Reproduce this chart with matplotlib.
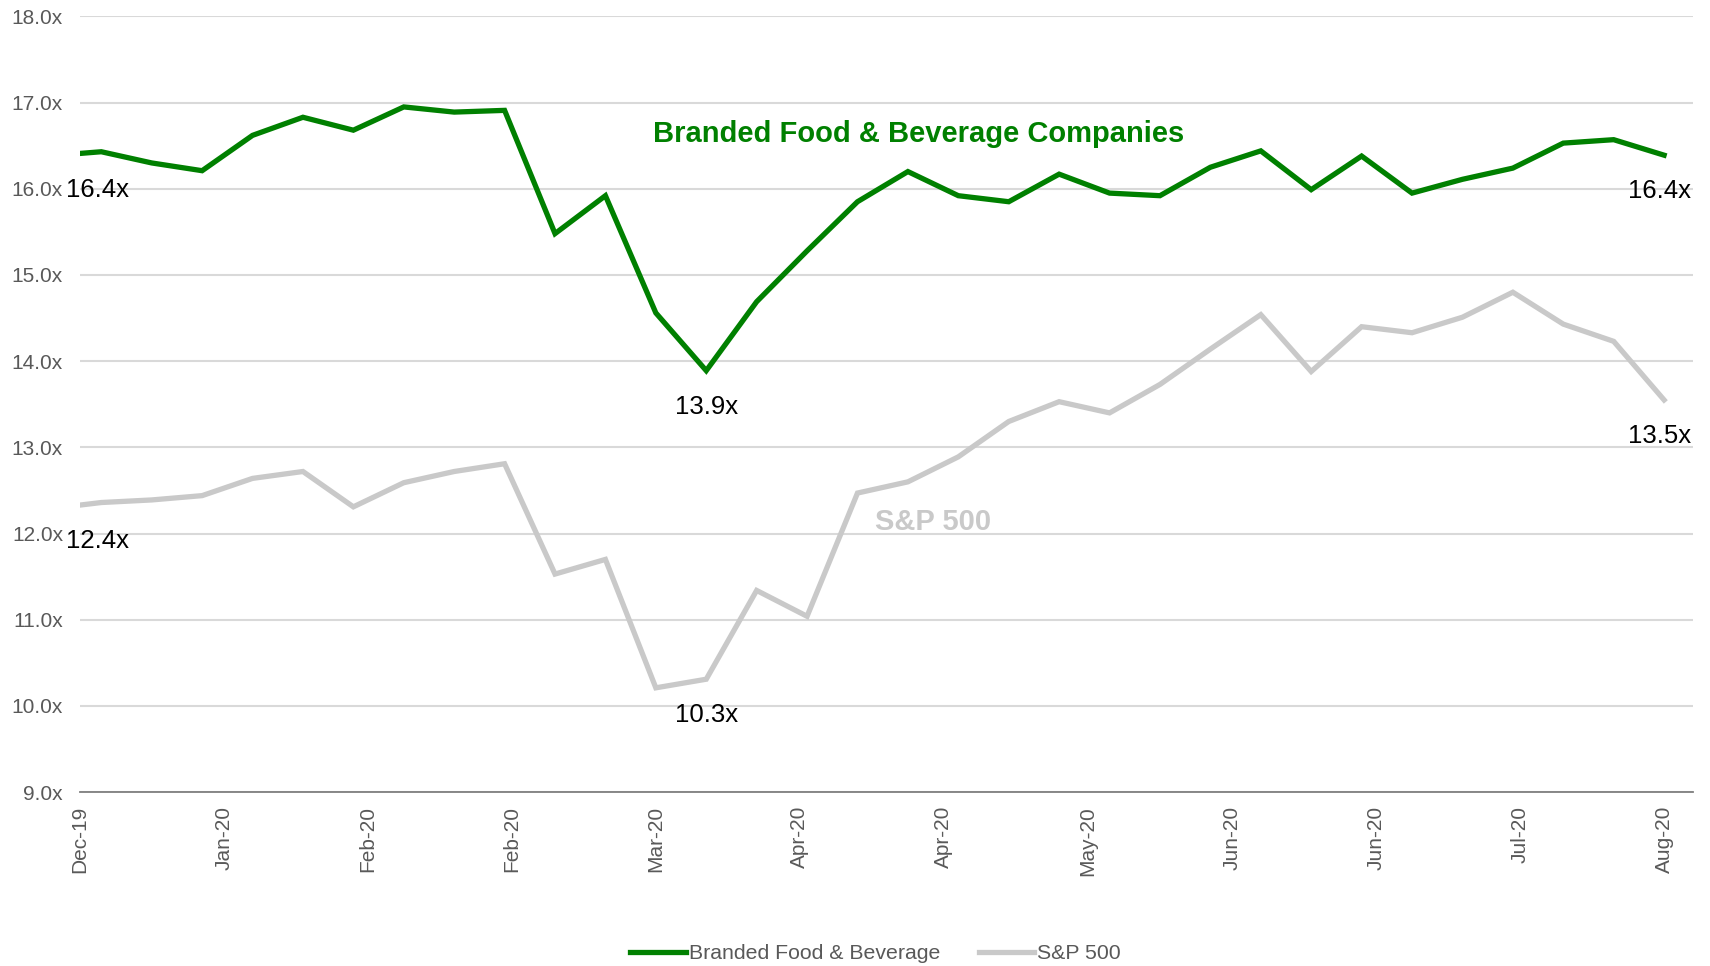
import matplotlib
matplotlib.use("Agg")
import matplotlib.pyplot as plt
import matplotlib.dates as mdates
from matplotlib import font_manager
import pandas as pd

# weekly observations: Dec 31 2019, then every Friday to Aug 7 2020
dates = [pd.Timestamp("2019-12-31")] + list(pd.date_range("2020-01-03", "2020-08-07", freq="7D"))

branded = [16.41, 16.43, 16.30, 16.21, 16.62, 16.83, 16.68, 16.95, 16.89, 16.91,
           15.48, 15.92, 14.56, 13.89, 14.69, 15.28, 15.85, 16.20, 15.92, 15.85,
           16.17, 15.95, 15.92, 16.25, 16.44, 15.99, 16.38, 15.95, 16.11, 16.24,
           16.53, 16.57, 16.39]

sp500 = [12.33, 12.36, 12.39, 12.44, 12.64, 12.72, 12.31, 12.59, 12.72, 12.81,
         11.53, 11.70, 10.21, 10.31, 11.34, 11.04, 12.47, 12.60, 12.89, 13.30,
         13.53, 13.40, 13.73, 14.14, 14.54, 13.88, 14.40, 14.33, 14.51, 14.80,
         14.43, 14.23, 13.55]

series_names = ["Branded Food & Beverage", "S&P 500"]
tick_dates = pd.date_range("2019-12-31", periods=12, freq="20D")

# (series, index, text) for the data labels
point_labels = [("branded", 0, "16.4x"), ("branded", 13, "13.9x"), ("branded", 32, "16.4x"),
                ("sp500", 0, "12.4x"), ("sp500", 13, "10.3x"), ("sp500", 32, "13.5x")]

GREEN = "#008000"
GREY = "#C9C9C9"
TXT = "#595959"

plt.rcParams["font.family"] = ["Liberation Sans", "DejaVu Sans"]

names = {f.name for f in font_manager.fontManager.ttflist}
if "Liberation Sans Narrow" in names:
    lab_font = dict(family="Liberation Sans Narrow", fontsize=21)
else:
    lab_font = dict(family="Liberation Sans", fontsize=18.5)

fig = plt.figure(figsize=(17.1, 9.66), dpi=100)
ax = fig.add_axes([0.0466, 0.180, 0.9434, 0.803])

ax.plot(dates, branded, color=GREEN, lw=3.8, solid_joinstyle="miter", label=series_names[0])
ax.plot(dates, sp500, color=GREY, lw=3.8, solid_joinstyle="miter", label=series_names[1])

ax.set_ylim(9, 18)
ax.set_yticks(range(9, 19))
ax.set_yticklabels(["%.1fx" % v for v in range(9, 19)])
ax.set_xlim(dates[0], dates[0] + pd.Timedelta(days=224))
ax.set_xticks(tick_dates)
ax.xaxis.set_major_formatter(mdates.DateFormatter("%b-%y"))
ax.tick_params(axis="x", labelrotation=90, length=0, pad=10, labelsize=15, labelcolor=TXT)
ax.tick_params(axis="y", length=0, pad=12, labelsize=15, labelcolor=TXT)

ax.grid(axis="y", color="#D9D9D9", lw=1.5)
ax.set_axisbelow(True)
for s in ["top", "right", "left"]:
    ax.spines[s].set_visible(False)
ax.spines["bottom"].set_color("#7F7F7F")
ax.spines["bottom"].set_linewidth(1.3)

series = {"branded": branded, "sp500": sp500}
for key, i, txt in point_labels:
    dx = 13 if i == 0 else (-3 if i == 32 else 0)
    ax.annotate(txt, (dates[i], series[key][i]), xytext=(dx, -26), textcoords="offset points",
                ha="center", va="center", color="black", annotation_clip=False, **lab_font)

ax.text(0.52, 0.848, "Branded Food & Beverage Companies", transform=ax.transAxes,
        ha="center", va="center", color=GREEN, fontsize=21, fontweight="bold")
ax.text(0.529, 0.348, "S&P 500", transform=ax.transAxes,
        ha="center", va="center", color=GREY, fontsize=21, fontweight="bold")

leg = fig.legend(loc="center", bbox_to_anchor=(0.512, 0.0125), ncol=2, frameon=False,
                 fontsize=15.3, handlelength=2.6, handletextpad=0.15, columnspacing=1.8)
for t in leg.get_texts():
    t.set_color(TXT)

fig.savefig("out.png", dpi=100)
